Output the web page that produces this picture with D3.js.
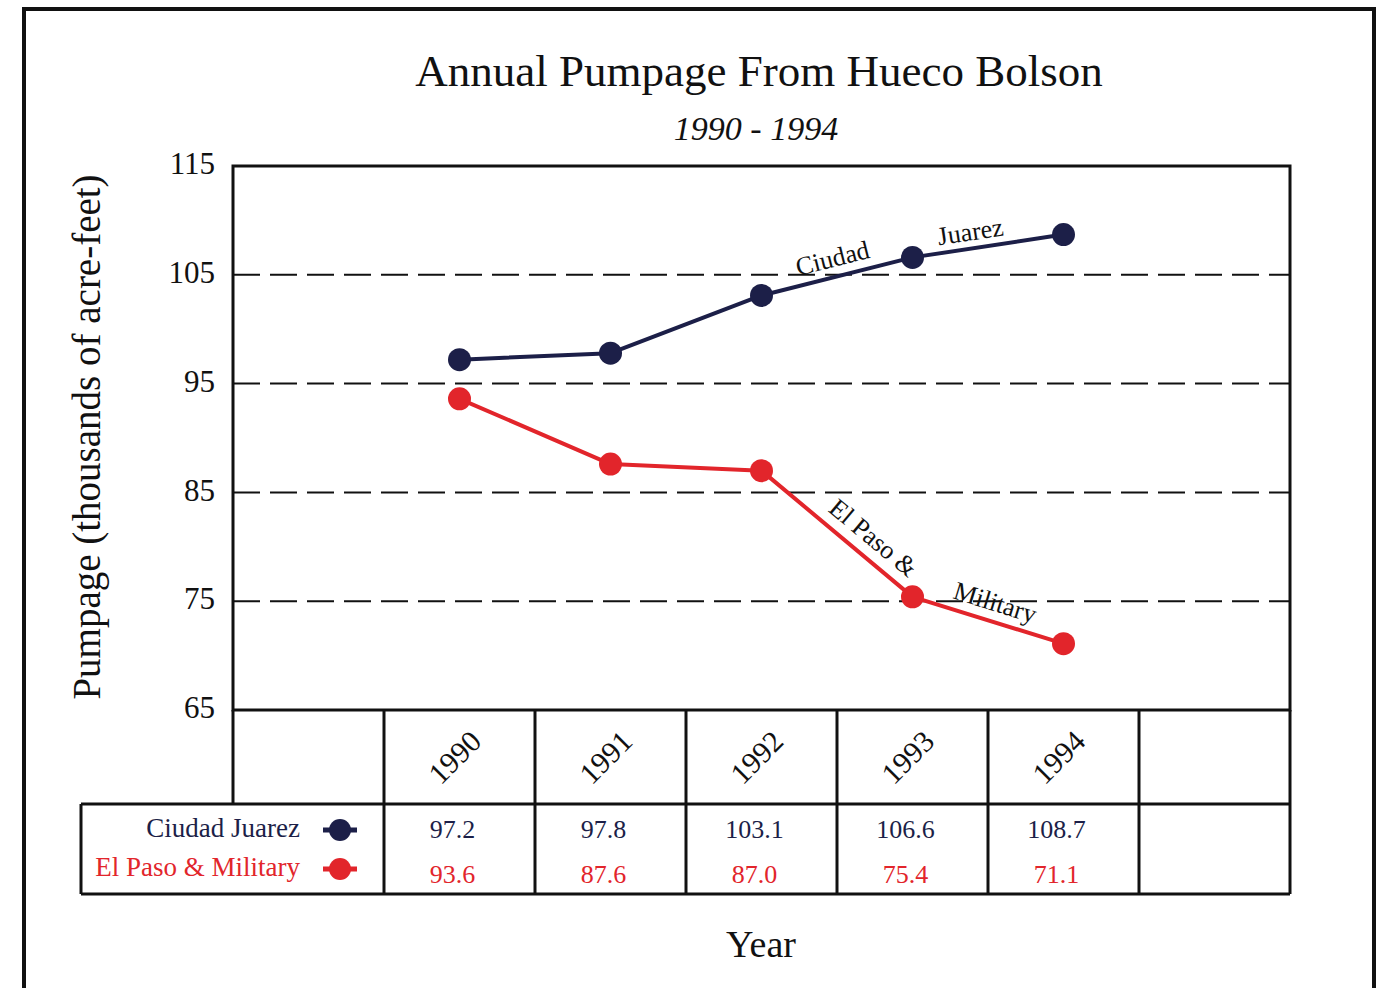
<!DOCTYPE html>
<html>
<head>
<meta charset="utf-8">
<script src="https://cdn.jsdelivr.net/npm/d3@7"></script>
<style>
  html, body { margin: 0; padding: 0; background: #fff; }
  svg { display: block; }
  svg text { font-family: "Times New Roman", Times, "Liberation Serif", serif; }
</style>
</head>
<body>
<svg id="chart" width="1385" height="988"></svg>
<script>
// Annual pumpage (thousands of acre-feet)
const years = ["1990", "1991", "1992", "1993", "1994"];
const juarez = [97.2, 97.8, 103.1, 106.6, 108.7];
const elPaso = [93.6, 87.6, 87.0, 75.4, 71.1];
const seriesNames = ["Ciudad Juarez", "El Paso & Military"];
const yTicks = [65, 75, 85, 95, 105, 115];

const navy = "#1c1f48";
const red = "#e2252b";
const ink = "#111";
const serif = "\"Times New Roman\", Times, \"Liberation Serif\", serif";

const svg = d3.select("#chart");
const W = 1385, H = 988;

// plot frame
const plotL = 233, plotR = 1290, plotT = 166, plotB = 710;
const tableHeadBottom = 804, tableBottom = 894, legendLeft = 81;

// columns: one blank lead column, the five years, one blank trailing column
const cols = ["lead", ...years, "trail"];
const x = d3.scaleBand().domain(cols).range([plotL, plotR]).padding(0);
const cx = d => x(d) + x.bandwidth() / 2;
const y = d3.scaleLinear().domain([65, 115]).range([plotB, plotT]);

// page border
svg.append("path")
  .attr("d", `M24,${H + 5} V9 H1374 V${H + 5}`)
  .attr("fill", "none").attr("stroke", ink).attr("stroke-width", 4);

// title
svg.append("text").attr("x", 759).attr("y", 86).attr("text-anchor", "middle")
  .attr("font-size", 45).attr("fill", ink).text("Annual Pumpage From Hueco Bolson");
svg.append("text").attr("x", 756).attr("y", 140).attr("text-anchor", "middle")
  .attr("font-size", 34).attr("font-style", "italic").attr("fill", ink).text("1990 - 1994");

// dashed gridlines
svg.append("g").selectAll("line").data(yTicks.filter(t => t > 65 && t < 115)).join("line")
  .attr("x1", plotL).attr("x2", plotR)
  .attr("y1", d => y(d)).attr("y2", d => y(d))
  .attr("stroke", ink).attr("stroke-width", 2).attr("stroke-dasharray", "27,10");

// y axis labels
const yAxis = svg.append("g").attr("transform", `translate(${plotL},0)`)
  .call(d3.axisLeft(y).tickValues(yTicks).tickSize(0).tickPadding(18).tickFormat(d3.format("d")));
yAxis.select(".domain").remove();
yAxis.selectAll("text").attr("font-size", 31).attr("fill", ink)
  .attr("font-family", serif).attr("dy", "0.25em");

// y axis title
svg.append("text")
  .attr("transform", "translate(100,437) rotate(-90)")
  .attr("text-anchor", "middle").attr("font-size", 39).attr("fill", ink)
  .text("Pumpage (thousands of acre-feet)");

// x axis title
svg.append("text").attr("x", 761).attr("y", 957).attr("text-anchor", "middle")
  .attr("font-size", 38).attr("fill", ink).text("Year");

// plot frame
svg.append("rect").attr("x", plotL).attr("y", plotT)
  .attr("width", plotR - plotL).attr("height", plotB - plotT)
  .attr("fill", "none").attr("stroke", ink).attr("stroke-width", 3);

// data table grid
const grid = svg.append("g").attr("stroke", ink).attr("stroke-width", 3);
const seps = cols.slice(1).map(c => x(c)).concat([plotR]);
grid.selectAll("line.sep").data(seps).join("line").attr("class", "sep")
  .attr("x1", d => d).attr("x2", d => d).attr("y1", plotB).attr("y2", tableBottom);
grid.append("line").attr("x1", plotL).attr("x2", plotL).attr("y1", plotB).attr("y2", tableHeadBottom);
grid.append("line").attr("x1", legendLeft).attr("x2", plotR).attr("y1", tableHeadBottom).attr("y2", tableHeadBottom);
grid.append("line").attr("x1", legendLeft).attr("x2", plotR).attr("y1", tableBottom).attr("y2", tableBottom);
grid.append("line").attr("x1", legendLeft).attr("x2", legendLeft).attr("y1", tableHeadBottom).attr("y2", tableBottom);

// rotated year labels
svg.append("g").selectAll("text").data(years).join("text")
  .attr("transform", d => `translate(${cx(d) - 5},${757}) rotate(-45)`)
  .attr("text-anchor", "middle").attr("dy", "0.35em")
  .attr("font-size", 30).attr("fill", ink).text(d => d);

// table values
const rows = [
  { values: juarez, color: navy, ty: 829 },
  { values: elPaso, color: red, ty: 874 }
];
rows.forEach(r => {
  svg.append("g").selectAll("text").data(r.values).join("text")
    .attr("x", (d, i) => cx(years[i]) - 7)
    .attr("y", r.ty).attr("dy", "0.35em").attr("text-anchor", "middle")
    .attr("font-size", 26).attr("fill", r.color).text(d => d.toFixed(1));
});

// legend rows
const legendRows = [
  { name: seriesNames[0], color: navy, ty: 828 },
  { name: seriesNames[1], color: red, ty: 867 }
];
legendRows.forEach(r => {
  svg.append("text").attr("x", 300).attr("y", r.ty).attr("dy", "0.35em")
    .attr("text-anchor", "end").attr("font-size", 27).attr("fill", r.color).text(r.name);
  svg.append("line").attr("x1", 323).attr("x2", 357).attr("y1", r.ty + 2).attr("y2", r.ty + 2)
    .attr("stroke", r.color).attr("stroke-width", 5);
  svg.append("circle").attr("cx", 340).attr("cy", r.ty + 2).attr("r", 11).attr("fill", r.color);
});

// series lines and markers
const line = d3.line().x((d, i) => cx(years[i])).y(d => y(d));
[{ v: juarez, c: navy }, { v: elPaso, c: red }].forEach(s => {
  svg.append("path").datum(s.v).attr("d", line)
    .attr("fill", "none").attr("stroke", s.c).attr("stroke-width", 4).attr("stroke-linejoin", "round");
  svg.append("g").selectAll("circle").data(s.v).join("circle")
    .attr("cx", (d, i) => cx(years[i])).attr("cy", d => y(d)).attr("r", 11.5).attr("fill", s.c);
});

// labels laid along segments
function segLabel(values, i, text, t, offset) {
  const x1 = cx(years[i]), y1 = y(values[i]);
  const x2 = cx(years[i + 1]), y2 = y(values[i + 1]);
  const ang = Math.atan2(y2 - y1, x2 - x1);
  const px = x1 + (x2 - x1) * t, py = y1 + (y2 - y1) * t;
  // offset perpendicular to the segment (negative = above)
  const ox = px - Math.sin(ang) * offset, oy = py + Math.cos(ang) * offset;
  svg.append("text")
    .attr("transform", `translate(${ox},${oy}) rotate(${ang * 180 / Math.PI})`)
    .attr("text-anchor", "middle").attr("font-size", 26).attr("fill", ink).text(text);
}
segLabel(juarez, 2, "Ciudad", 0.5, -10);
segLabel(juarez, 3, "Juarez", 0.4, -8);
segLabel(elPaso, 2, "El Paso &", 0.655, -11.5);
segLabel(elPaso, 3, "Military", 0.51, -10.5);
</script>
</body>
</html>
